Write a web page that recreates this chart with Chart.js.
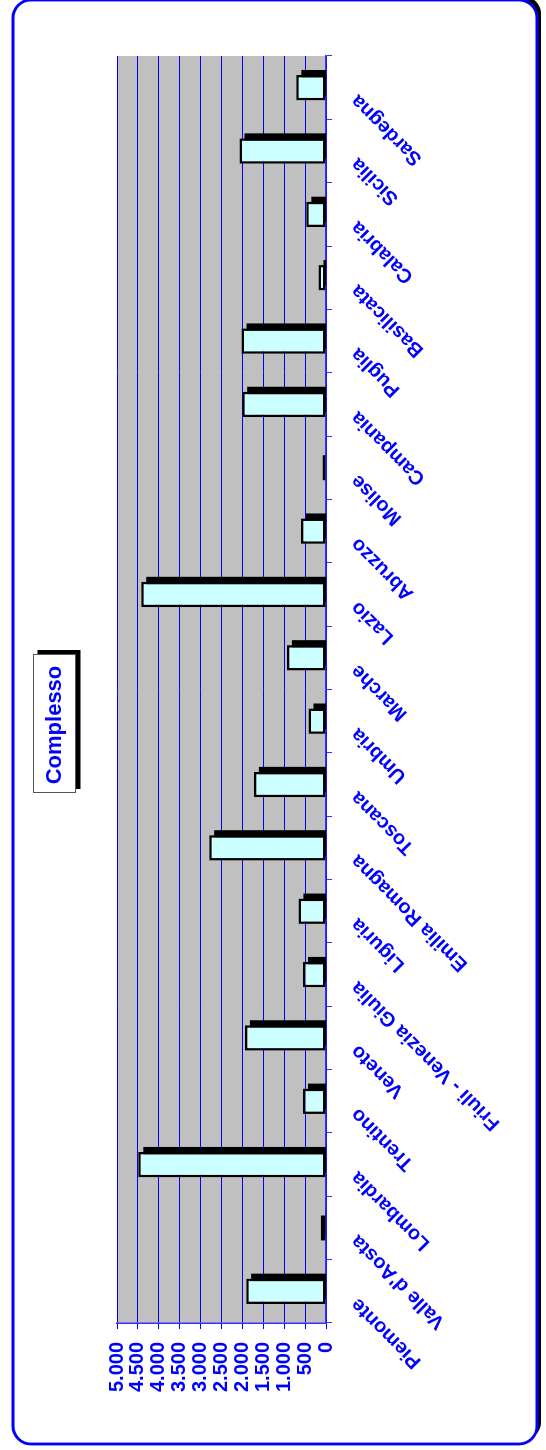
<!DOCTYPE html>
<html>
<head>
<meta charset="utf-8">
<script src="https://cdn.jsdelivr.net/npm/chart.js@4/dist/chart.umd.min.js"></script>
<style>
  html, body { margin: 0; padding: 0; background: #ffffff; overflow: hidden; }
  body { width: 546px; height: 1450px; position: relative; }
  #wrap { position: absolute; left: 0; top: 0; width: 1450px; height: 546px;
          transform-origin: 0 0; transform: translate(0px, 1450px) rotate(-90deg); }
  canvas { display: block; }
</style>
</head>
<body>
<div id="wrap"><canvas id="c" width="1450" height="546"></canvas></div>
<script>
const chartTitle = 'Complesso';
const categories = ['Piemonte', "Valle d'Aosta", 'Lombardia', 'Trentino', 'Veneto',
  'Friuli - Venezia Giulia', 'Liguria', 'Emilia Romagna', 'Toscana', 'Umbria',
  'Marche', 'Lazio', 'Abruzzo', 'Molise', 'Campania', 'Puglia', 'Basilicata',
  'Calabria', 'Sicilia', 'Sardegna'];
const values = [1910, 127, 4490, 550, 1940, 550, 660, 2795, 1725, 420,
  935, 4420, 600, 85, 2005, 2020, 180, 470, 2070, 710];
const valueTickLabels = ['0', '500', '1.000', '1.500', '2.000', '2.500',
  '3.000', '3.500', '4.000', '4.500', '5.000'];

const BLUE = '#0000FF';
const FONT = "'Liberation Sans', Arial, sans-serif";

function rrect(ctx, x, y, w, h, r) {
  ctx.beginPath();
  ctx.moveTo(x + r, y);
  ctx.lineTo(x + w - r, y);
  ctx.arcTo(x + w, y, x + w, y + r, r);
  ctx.lineTo(x + w, y + h - r);
  ctx.arcTo(x + w, y + h, x + w - r, y + h, r);
  ctx.lineTo(x + r, y + h);
  ctx.arcTo(x, y + h, x, y + h - r, r);
  ctx.lineTo(x, y + r);
  ctx.arcTo(x, y, x + r, y, r);
  ctx.closePath();
}

const decor = {
  id: 'decor',
  beforeDraw(chart) {
    const ctx = chart.ctx;
    ctx.save();
    // outer frame with shadow
    rrect(ctx, 6 + 4, 13 + 4, 1444, 524, 18);
    ctx.fillStyle = '#000000';
    ctx.fill();
    rrect(ctx, 6, 13, 1444, 524, 18);
    ctx.fillStyle = '#FFFFFF';
    ctx.fill();
    ctx.lineWidth = 2.8;
    ctx.strokeStyle = BLUE;
    ctx.stroke();
    // plot area background
    const a = chart.chartArea;
    ctx.fillStyle = '#C0C0C0';
    ctx.fillRect(a.left, a.top, a.right - a.left, a.bottom - a.top);
    // title box with shadow
    const cx = 726.5, bw = 139, bh = 43, by = 33;
    ctx.fillStyle = '#000000';
    ctx.fillRect(cx - bw / 2 + 4, by + 4.5, bw, bh);
    ctx.fillStyle = '#FFFFFF';
    ctx.fillRect(cx - bw / 2, by, bw, bh);
    ctx.lineWidth = 1;
    ctx.strokeStyle = '#555555';
    ctx.strokeRect(cx - bw / 2 + 0.5, by + 0.5, bw - 1, bh - 1);
    ctx.restore();
  },
  beforeDatasetsDraw(chart) {
    const ctx = chart.ctx;
    const a = chart.chartArea;
    const meta = chart.getDatasetMeta(0);
    ctx.save();
    ctx.beginPath();
    ctx.rect(a.left, a.top, a.right - a.left, a.bottom - a.top);
    ctx.clip();
    ctx.fillStyle = '#000000';
    meta.data.forEach(bar => {
      const p = bar.getProps(['x', 'y', 'base', 'width'], true);
      const top = Math.min(p.y, p.base);
      ctx.fillRect(p.x - p.width / 2 + 5, top + 5, p.width, Math.abs(p.base - p.y));
    });
    ctx.restore();
  }
};

new Chart(document.getElementById('c'), {
  type: 'bar',
  data: {
    labels: categories,
    datasets: [{
      data: values,
      backgroundColor: '#CCFFFF',
      borderColor: '#000000',
      borderWidth: 2.5,
      borderSkipped: false,
      barPercentage: 0.4,
      categoryPercentage: 1.0
    }]
  },
  options: {
    responsive: false,
    animation: false,
    devicePixelRatio: 1,
    layout: { padding: { left: 56, right: 56, top: 42, bottom: 0 } },
    plugins: {
      legend: { display: false },
      tooltip: { enabled: false },
      title: {
        display: true,
        text: chartTitle,
        color: BLUE,
        font: { family: FONT, size: 22, weight: 'bold' },
        padding: { top: 0, bottom: 48.6 }
      }
    },
    scales: {
      x: {
        grid: { display: true, drawOnChartArea: false, drawTicks: true, tickLength: 6,
                color: '#3333FF', lineWidth: 1, offset: true },
        border: { display: true, color: '#3333FF', width: 1.5 },
        ticks: {
          color: BLUE, autoSkip: false, minRotation: 45, maxRotation: 45,
          padding: 14, labelOffset: -10,
          font: { family: FONT, size: 20, weight: 'bold' }
        },
        afterFit(scale) { scale.height = 220; }
      },
      y: {
        min: 0, max: 5000,
        grid: { color: BLUE, lineWidth: 1, tickLength: 6, drawTicks: true },
        border: { display: true, color: '#3333FF', width: 1.5 },
        ticks: {
          stepSize: 500, autoSkip: false, padding: 13, color: BLUE,
          font: { family: FONT, size: 20, weight: 'bold' },
          callback: (v, i) => valueTickLabels[i]
        },
        afterFit(scale) { scale.width = 71; }
      }
    }
  },
  plugins: [decor]
});
</script>
</body>
</html>
